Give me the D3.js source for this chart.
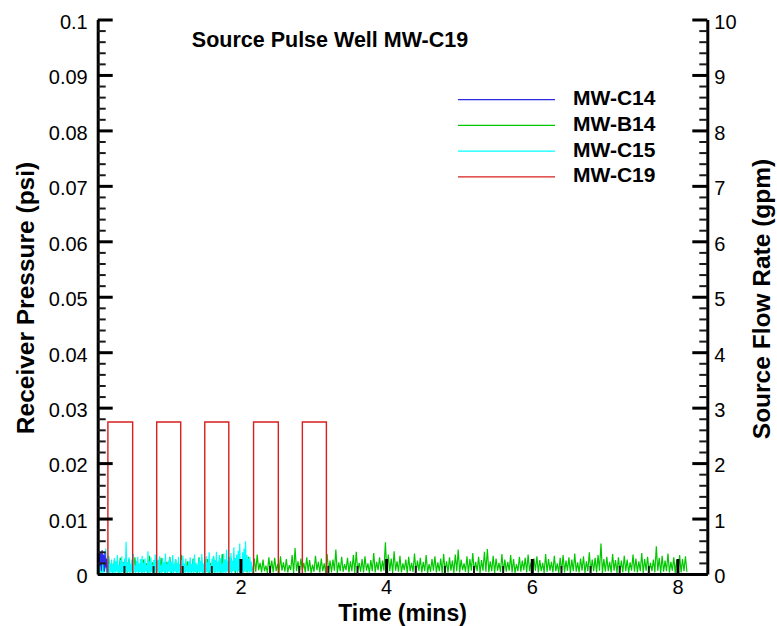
<!DOCTYPE html>
<html>
<head>
<meta charset="utf-8">
<script src="https://cdn.jsdelivr.net/npm/d3@7"></script>
<style>
  body { margin: 0; background: #fff; }
  text { font-family: "Liberation Sans", Arial, sans-serif; fill: #000; }
</style>
</head>
<body>
<svg id="chart" width="777" height="626"></svg>
<script>
// Tick labels
const timeTicks = [2, 4, 6, 8];
const pressureTicks = [0, 0.01, 0.02, 0.03, 0.04, 0.05, 0.06, 0.07, 0.08, 0.09, 0.1];
const flowTicks = [0, 1, 2, 3, 4, 5, 6, 7, 8, 9, 10];

const seriesNames = ["MW-C14", "MW-B14", "MW-C15", "MW-C19"];
const seriesColors = ["#2a2ae8", "#00c800", "#00ffff", "#d81e1e"];

// Source pulses in MW-C19 (minutes on / off, flow in gpm)
const pulseOn = [0.18, 0.85, 1.51, 2.18, 2.85];
const pulseOff = [0.52, 1.18, 1.84, 2.52, 3.18];
const pulseRate = 2.74;

// Receiver pressures in 1e-3 psi, sampled from start time at fixed step (minutes)
const c14Start = 0.05, c14Step = 0.01;
const c14Values = [2.6, 4.1, 1.5, 3.8, 0.6, 4.3, 2.0, 3.5, 0.4, 3.9, 1.2, 2.8, 0.3];

const b14Start = 0.05, b14Step = 0.02;
const b14Values = [
  0.4, 2.1, 0.3, 2.8, 0.6, 1.7, 0.2, 3.2, 0.5, 1.9, 0.3, 2.5, 0.7, 1.4, 0.2, 2.9, 0.4, 2.2, 0.6, 1.6,
  0.3, 2.7, 0.5, 1.8, 0.2, 3.0, 0.6, 2.0, 0.4, 1.5, 0.3, 2.6, 0.8, 1.9, 0.2, 3.3, 0.5, 2.1, 0.3, 1.7,
  0.6, 2.4, 0.2, 2.9, 0.4, 1.6, 0.3, 2.2, 0.7, 3.1, 0.2, 1.8, 0.5, 2.6, 0.3, 2.0, 0.6, 3.4, 0.2, 1.5,
  0.4, 2.3, 0.7, 1.9, 0.3, 2.8, 0.5, 1.4, 0.2, 3.0, 0.6, 2.2, 0.3, 1.7, 0.4, 2.7, 0.2, 2.0, 0.5, 3.2,
  0.3, 1.8, 0.6, 2.5, 0.2, 3.6, 0.4, 2.1, 0.7, 1.6, 0.3, 2.9, 0.5, 2.3, 0.2, 3.3, 0.6, 1.9, 0.4, 2.6,
  0.5, 2.2, 0.3, 3.1, 0.6, 1.7, 0.2, 2.8, 0.4, 3.5, 0.7, 2.0, 0.3, 2.6, 0.5, 1.5, 0.2, 3.0, 0.6, 2.4,
  0.3, 2.9, 0.5, 1.8, 0.2, 3.2, 0.6, 2.1, 0.4, 2.7, 0.3, 1.6, 0.7, 3.4, 0.2, 4.7, 0.5, 2.3, 0.4, 2.8,
  0.6, 2.0, 0.3, 3.0, 0.5, 2.5, 0.2, 1.7, 0.4, 3.3, 0.7, 2.2, 0.3, 2.8, 0.5, 1.9, 0.2, 3.6, 0.4, 2.4,
  0.3, 2.6, 0.6, 4.4, 0.2, 2.1, 0.5, 3.1, 0.4, 1.8, 0.7, 2.9, 0.3, 2.3, 0.5, 3.4, 0.2, 4.0, 0.6, 2.0,
  0.4, 2.7, 0.3, 3.2, 0.6, 1.9, 0.2, 2.5, 0.5, 3.8, 0.3, 2.2, 0.7, 3.0, 0.4, 2.4, 0.6, 5.7, 0.3, 3.5,
  0.5, 2.8, 0.2, 4.1, 0.6, 2.3, 0.4, 3.3, 0.3, 1.9, 0.7, 2.6, 0.2, 3.1, 0.5, 2.0, 0.4, 3.7, 0.3, 2.4,
  0.6, 2.9, 0.3, 2.2, 0.5, 3.4, 0.2, 1.8, 0.4, 2.7, 0.6, 3.2, 0.3, 2.1, 0.5, 2.8, 0.2, 3.6, 0.4, 2.3,
  0.3, 3.0, 0.6, 2.4, 0.2, 3.5, 0.5, 4.4, 0.3, 2.6, 0.7, 1.9, 0.4, 3.2, 0.2, 2.7, 0.6, 3.8, 0.3, 2.2,
  0.5, 3.1, 0.2, 2.5, 0.6, 4.0, 0.4, 4.5, 0.3, 2.3, 0.5, 3.3, 0.2, 2.8, 0.6, 2.0, 0.4, 3.6, 0.3, 2.6,
  0.4, 2.2, 0.6, 3.4, 0.3, 2.7, 0.2, 1.8, 0.5, 3.1, 0.4, 2.4, 0.7, 2.9, 0.3, 3.5, 0.5, 2.1, 0.2, 2.8,
  0.6, 3.2, 0.3, 2.5, 0.5, 2.0, 0.2, 3.6, 0.4, 2.7, 0.6, 2.2, 0.3, 3.3, 0.5, 1.9, 0.2, 2.9, 0.4, 3.4,
  0.3, 2.4, 0.6, 3.0, 0.2, 2.6, 0.5, 3.7, 0.4, 2.1, 0.3, 2.8, 0.6, 3.2, 0.2, 2.3, 0.5, 3.9, 0.3, 2.6,
  0.5, 2.9, 0.3, 3.4, 0.6, 5.5, 0.2, 2.7, 0.4, 3.1, 0.5, 2.2, 0.3, 3.6, 0.6, 2.5, 0.2, 3.0, 0.4, 2.4,
  0.3, 3.3, 0.5, 2.6, 0.2, 2.1, 0.6, 3.5, 0.4, 2.8, 0.3, 2.3, 0.5, 3.8, 0.2, 2.7, 0.6, 3.1, 0.4, 2.0,
  0.5, 2.6, 0.3, 5.0, 0.6, 2.9, 0.2, 3.3, 0.4, 2.4, 0.5, 3.7, 0.3, 2.2, 0.6, 3.0, 0.2, 2.5, 0.4, 3.4,
  0.3, 2.7, 0.5, 3.2, 0.4
];

const c15Start = 0.05, c15Step = 0.01;
const c15Values = [
  0.2, 2.4, 0.1, 3.0, 0.4, 1.8, 0.2, 2.7, 0.3, 1.5, 4.6, 0.2, 2.2, 0.4, 3.1, 0.1, 1.9, 0.3, 2.6, 0.2,
  1.7, 0.3, 2.9, 0.1, 2.3, 0.4, 3.4, 0.2, 1.6, 0.3, 2.5, 0.1, 3.2, 0.4, 2.0, 0.2, 2.8, 0.3, 5.8, 0.2,
  2.1, 0.4, 3.0, 0.1, 1.8, 0.3, 2.6, 0.2, 3.6, 0.4, 1.5, 0.1, 2.4, 0.3, 3.1, 0.2, 1.9, 0.4, 2.7, 0.1,
  3.3, 0.3, 2.0, 0.2, 2.8, 0.4, 1.6, 0.1, 4.1, 0.3, 2.3, 0.2, 3.0, 0.4, 1.7, 0.1, 2.5, 0.3, 3.5, 0.2,
  1.9, 0.4, 2.6, 0.1, 3.2, 0.3, 1.5, 0.2, 2.9, 0.4, 2.1, 0.1, 3.7, 0.3, 1.8, 0.2, 2.4, 0.4, 3.0, 0.1,
  2.2, 0.3, 3.4, 0.2, 1.7, 0.4, 2.7, 0.1, 2.0, 0.3, 3.1, 0.2, 1.6, 0.4, 2.5, 0.1, 3.3, 0.3, 1.9, 0.2,
  2.8, 0.4, 1.5, 0.1, 2.3, 0.3, 3.0, 0.2, 1.8, 0.4, 2.6, 0.1, 3.5, 0.3, 2.0, 0.2, 1.7, 0.4, 2.9, 0.1,
  2.4, 0.3, 3.6, 0.2, 1.9, 0.4, 2.7, 0.1, 3.2, 0.3, 2.1, 0.2, 3.9, 0.4, 1.6, 0.1, 2.8, 0.3, 3.3, 0.2,
  2.5, 0.4, 4.0, 0.1, 2.2, 0.3, 3.4, 0.2, 2.9, 0.4, 1.8, 0.1, 3.7, 0.3, 2.6, 0.2, 4.4, 0.4, 2.3, 0.1,
  3.1, 0.3, 3.8, 0.2, 2.4, 0.5, 4.8, 0.3, 2.9, 0.6, 3.5, 0.2, 4.2, 0.4, 5.5, 0.3, 2.7, 0.5, 3.9, 0.2,
  4.6, 0.4, 5.9, 0.3, 3.4, 0.5, 2.8, 0.2, 3.1, 0.4, 2.2, 0.3
];

function drawChart() {
  const svg = d3.select("#chart");
  const width = +svg.attr("width");
  const height = +svg.attr("height");
  const margin = { top: 19.5, right: 69.7, bottom: 52, left: 97.7 };
  const innerWidth = width - margin.left - margin.right;
  const innerHeight = height - margin.top - margin.bottom;

  const g = svg.append("g")
    .attr("transform", `translate(${margin.left}, ${margin.top})`);

  const x = d3.scaleLinear().domain([0.04, 8.41]).range([0, innerWidth]);
  const yP = d3.scaleLinear().domain([0, 0.1]).range([innerHeight, 0]);
  const yQ = d3.scaleLinear().domain([0, 10]).range([innerHeight, 0]);

  // Receiver series
  const toPoints = (start, step, vals) =>
    vals.map((v, i) => [start + i * step, v / 1000]);

  const receivers = [
    { color: seriesColors[1], pts: toPoints(b14Start, b14Step, b14Values) },
    { color: seriesColors[2], pts: toPoints(c15Start, c15Step, c15Values) },
    { color: seriesColors[0], pts: toPoints(c14Start, c14Step, c14Values) }
  ];

  const pLine = d3.line().x(d => x(d[0])).y(d => yP(d[1]));

  g.append("g")
    .attr("fill", "none")
    .selectAll("path")
    .data(receivers)
    .join("path")
    .attr("d", d => pLine(d.pts))
    .attr("stroke", d => d.color)
    .attr("stroke-width", 1.2);

  // Source flow (step pulses)
  const flowPts = [[0.04, 0]];
  pulseOn.forEach((s, i) => {
    flowPts.push([s, 0], [s, pulseRate], [pulseOff[i], pulseRate], [pulseOff[i], 0]);
  });
  flowPts.push([3.6, 0]);

  g.append("path")
    .attr("fill", "none")
    .attr("stroke", seriesColors[3])
    .attr("stroke-width", 1.4)
    .attr("d", d3.line().x(d => x(d[0])).y(d => yQ(d[1]))(flowPts));

  // Axes: one axis per side carrying both major and minor ticks
  const fmt = d3.format("~g");
  const near = (a, b) => Math.abs(a - b) < 1e-9;

  const pAll = d3.range(0, 51).map(i => i * 0.002);
  const qAll = d3.range(0, 51).map(i => i * 0.2);
  const tAll = d3.range(1, 22).map(i => i * 0.4).filter(d => x(d) > 2 && x(d) < innerWidth - 2);

  const isMajorP = d => pressureTicks.some(v => near(v, d));
  const isMajorQ = d => flowTicks.some(v => near(v, d));
  const isMajorT = d => timeTicks.some(v => near(v, d));

  function styleAxis(sel, isMajor, horizontal, dir) {
    sel.select(".domain").attr("stroke", "#000").attr("stroke-width", 3);
    sel.selectAll(".tick").each(function(d) {
      const major = isMajor(d);
      const ln = d3.select(this).select("line")
        .attr("stroke", major ? "#000" : "#1a1a1a")
        .attr("stroke-width", major ? 3 : 2);
      const len = major ? 15 : 8;
      if (horizontal) ln.attr("y2", -len);
      else ln.attr("x2", dir * len);
    });
    sel.selectAll("text")
      .attr("font-size", "20px")
      .attr("font-family", "Liberation Sans, Arial, sans-serif");
  }

  g.append("g")
    .call(d3.axisLeft(yP).tickValues(pAll).tickSize(-15).tickSizeOuter(0).tickPadding(10)
      .tickFormat(d => isMajorP(d) ? fmt(+d.toFixed(3)) : ""))
    .call(s => styleAxis(s, isMajorP, false, 1))
    .call(s => s.selectAll("text").attr("dy", "0.44em"));

  g.append("g").attr("transform", `translate(${innerWidth},0)`)
    .call(d3.axisRight(yQ).tickValues(qAll).tickSize(-15).tickSizeOuter(0).tickPadding(7)
      .tickFormat(d => isMajorQ(d) ? fmt(+d.toFixed(1)) : ""))
    .call(s => styleAxis(s, isMajorQ, false, -1))
    .call(s => s.selectAll("text").attr("dy", "0.44em"));

  g.append("g").attr("transform", `translate(0,${innerHeight})`)
    .call(d3.axisBottom(x).tickValues(tAll).tickSize(-14).tickSizeOuter(0).tickPadding(6)
      .tickFormat(d => isMajorT(d) ? fmt(+d.toFixed(1)) : ""))
    .call(s => styleAxis(s, isMajorT, true, 1));

  // Axis titles
  svg.append("text")
    .attr("x", margin.left + innerWidth / 2)
    .attr("y", 620.5)
    .attr("text-anchor", "middle")
    .attr("font-size", "23px")
    .attr("font-weight", "bold")
    .text("Time (mins)");

  svg.append("text")
    .attr("transform", "translate(34, 298) rotate(-90)")
    .attr("text-anchor", "middle")
    .attr("font-size", "24.5px")
    .attr("font-weight", "bold")
    .text("Receiver Pressure (psi)");

  svg.append("text")
    .attr("transform", "translate(770, 299) rotate(-90)")
    .attr("text-anchor", "middle")
    .attr("font-size", "24.5px")
    .attr("font-weight", "bold")
    .text("Source Flow Rate (gpm)");

  // Title
  svg.append("text")
    .attr("x", 330)
    .attr("y", 46.5)
    .attr("text-anchor", "middle")
    .attr("font-size", "21.5px")
    .attr("font-weight", "bold")
    .text("Source Pulse Well MW-C19");

  // Legend
  const legend = svg.append("g")
    .selectAll("g")
    .data(seriesNames)
    .join("g")
    .attr("transform", (d, i) => `translate(458, ${99.7 + i * 25.7})`);

  legend.append("line")
    .attr("x1", 0).attr("x2", 97)
    .attr("stroke", (d, i) => seriesColors[i])
    .attr("stroke-width", 1.2);

  legend.append("text")
    .attr("x", 115)
    .attr("y", 5.5)
    .attr("font-size", "21px")
    .attr("font-weight", "bold")
    .text(d => d);
}

drawChart();
</script>
</body>
</html>
